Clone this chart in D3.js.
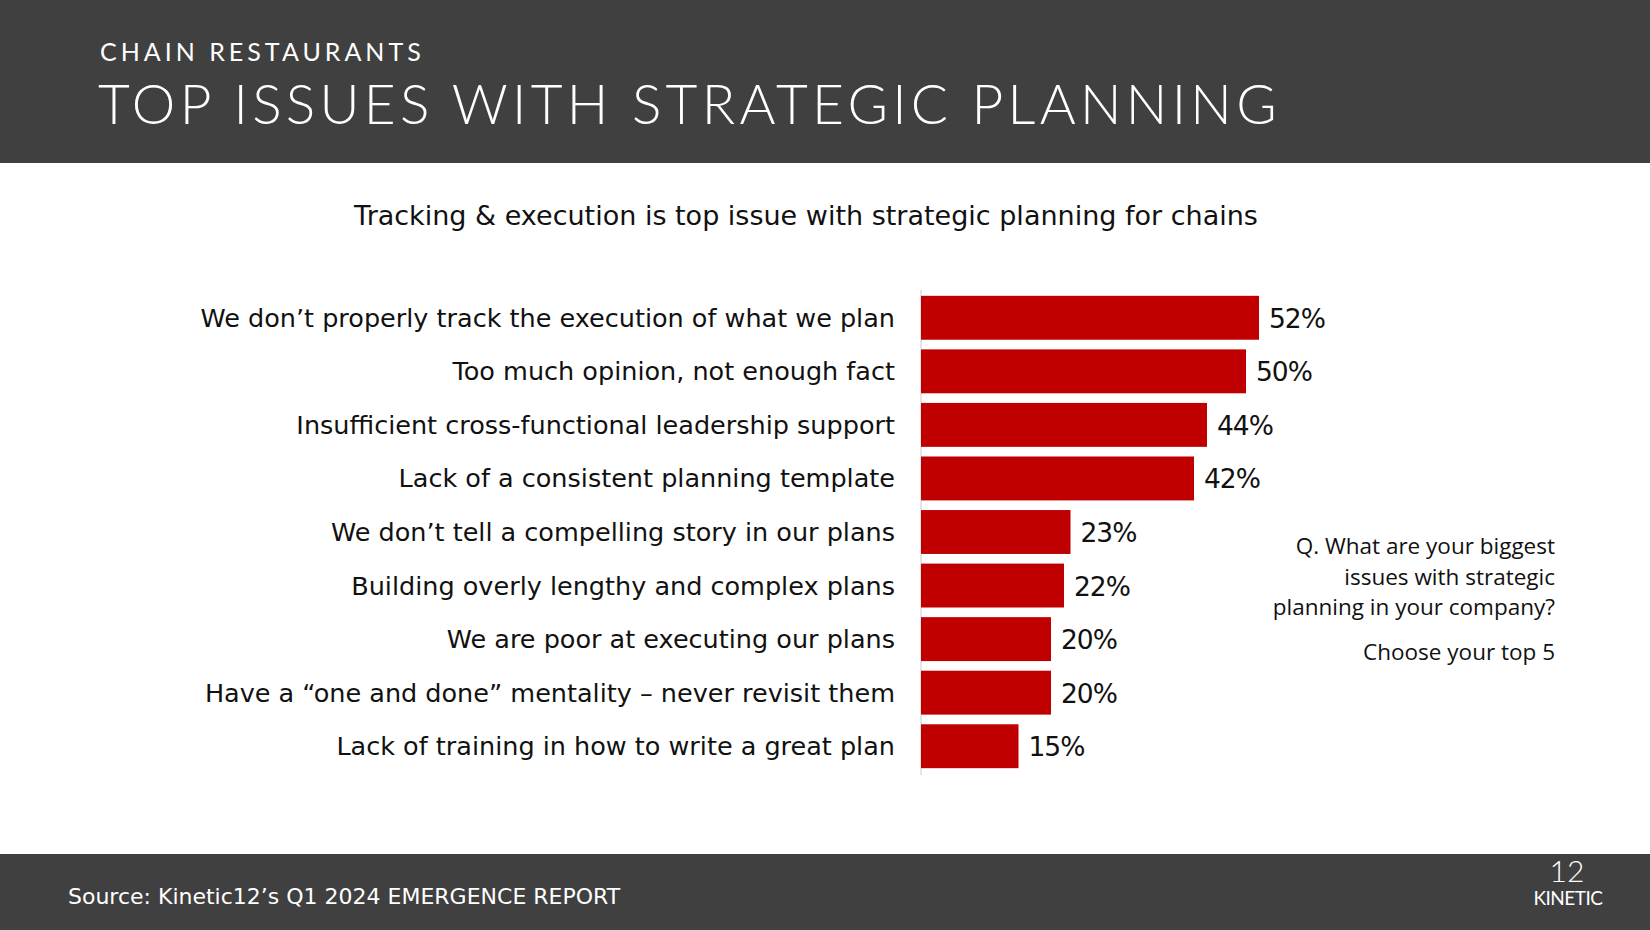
<!DOCTYPE html>
<html><head><meta charset="utf-8">
<script src="https://cdn.jsdelivr.net/npm/d3@7"></script>
<style>body{margin:0;background:#fff}svg{display:block}</style>
</head><body><svg id="c" width="1650" height="930"></svg>
<script>
const categories=["We don’t properly track the execution of what we plan","Too much opinion, not enough fact","Insufficient cross-functional leadership support","Lack of a consistent planning template","We don’t tell a compelling story in our plans","Building overly lengthy and complex plans","We are poor at executing our plans","Have a “one and done” mentality – never revisit them","Lack of training in how to write a great plan"];
const values=[52,50,44,42,23,22,20,20,15];
const svg=d3.select("#c");
const F="'Lato','Open Sans',sans-serif";
const G="'DejaVu Sans',sans-serif";
svg.append("rect").attr("width",1650).attr("height",163).attr("fill","#404040");
svg.append("rect").attr("y",854).attr("width",1650).attr("height",76).attr("fill","#404040");
svg.append("text").attr("x",100).attr("y",61).attr("fill","#fff").attr("font-family",F).attr("font-size",25).attr("letter-spacing",4).text("CHAIN RESTAURANTS");
svg.append("text").attr("x",98).attr("y",124).attr("fill","#fff").attr("font-family",F).attr("font-size",55).attr("letter-spacing",4.3).attr("font-weight",300).text("TOP ISSUES WITH STRATEGIC PLANNING");
svg.append("text").attr("x",806).attr("y",225).attr("text-anchor","middle").attr("fill","#111").attr("font-family",G).attr("font-size",27).text("Tracking & execution is top issue with strategic planning for chains");
const x=d3.scaleLinear().domain([0,52]).range([921,1259]);
const y=d3.scaleBand().domain(categories).range([291,773]).paddingInner(0.18).paddingOuter(0.09);
svg.append("line").attr("x1",921).attr("x2",921).attr("y1",290).attr("y2",775).attr("stroke","#ccc");
const g=svg.selectAll("g.r").data(categories).enter().append("g");
g.append("rect").attr("x",x(0)).attr("y",d=>y(d)).attr("height",y.bandwidth()).attr("width",(d,i)=>x(values[i])-x(0)).attr("fill","#c00000");
g.append("text").attr("x",895).attr("y",d=>y(d)+y.bandwidth()/2+9).attr("text-anchor","end").attr("font-family",G).attr("font-size",25.5).attr("fill","#111").text(d=>d);
g.append("text").attr("x",(d,i)=>x(values[i])+10).attr("y",d=>y(d)+y.bandwidth()/2+10).attr("font-family",G).attr("font-size",26.5).attr("fill","#111").attr("letter-spacing",-1).text((d,i)=>values[i]+"%");
const note=["Q. What are your biggest","issues with strategic","planning in your company?"];
note.forEach((t,i)=>svg.append("text").attr("x",1555).attr("y",554+i*30.5).attr("text-anchor","end").attr("font-family","'Open Sans',sans-serif").attr("font-size",22.5).attr("fill","#111").text(t));
svg.append("text").attr("x",1555).attr("y",660).attr("text-anchor","end").attr("font-family","'Open Sans',sans-serif").attr("font-size",22.5).attr("fill","#111").text("Choose your top 5");
svg.append("text").attr("x",68).attr("y",904).attr("fill","#fff").attr("font-family",G).attr("font-size",22).text("Source: Kinetic12’s Q1 2024 EMERGENCE REPORT");
svg.append("text").attr("x",1567).attr("y",882).attr("text-anchor","middle").attr("fill","#fff").attr("font-family",F).attr("font-size",30).attr("font-weight",300).text("12");
svg.append("text").attr("x",1568).attr("y",905).attr("text-anchor","middle").attr("fill","#fff").attr("font-family",F).attr("font-size",19).attr("letter-spacing",-0.5).text("KINETIC");
</script></body></html>
